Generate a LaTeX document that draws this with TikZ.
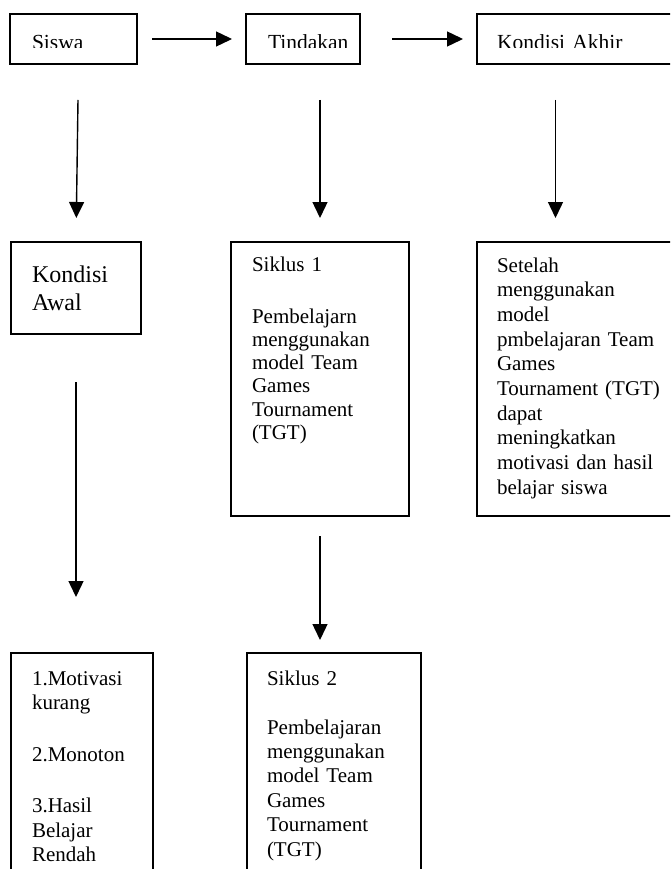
\documentclass[tikz,border=0pt]{standalone}
\usepackage{fontspec}
\setmainfont{Liberation Serif}
\usetikzlibrary{arrows.meta}
\tikzset{box/.style={draw=black, line width=1.7pt, rectangle, inner sep=0pt, outer sep=0pt, anchor=north west},
boxtext/.style={anchor=base west, inner sep=0pt, outer sep=0pt, align=left, text width=#1},
boxtext/.default={170pt},
arr/.style={-{Triangle[length=16pt,width=15pt]}, line width=1.4pt}}

\begin{document}
\begin{tikzpicture}[x=1pt, y=-1pt]
        \useasboundingbox (0,0) rectangle (670,869);
        \clip (0,0) rectangle (670,869);

        % boxes
        \node[box, minimum width=127pt, minimum height=50pt] (siswa) at (10,14) {};
        \node[box, minimum width=114pt, minimum height=50pt] (tindakan) at (246,14) {};
        \node[box, minimum width=213pt, minimum height=50pt] (akhir) at (477,14) {};
        \node[box, minimum width=130pt, minimum height=92pt] (awal) at (11,242) {};
        \node[box, minimum width=178pt, minimum height=274pt] (siklus1) at (231,242) {};
        \node[box, minimum width=213pt, minimum height=274pt] (setelah) at (477,242) {};
        \node[box, minimum width=142pt, minimum height=237pt] (masalah) at (11,653) {};
        \node[box, minimum width=174pt, minimum height=237pt] (siklus2) at (247,653) {};

        % texts
        \begin{scope}
            \clip (10,14) rectangle (670,47.5);
            \node[boxtext, font=\fontsize{21.5}{24}\selectfont] (siswa-txt) at (32,50) {Siswa};
            \node[boxtext, font=\fontsize{21.5}{24}\selectfont] (tindakan-txt) at (268,50) {Tindakan};
            \node[boxtext, font=\fontsize{21.5}{24}\selectfont] (akhir-txt) at (497,50) {Kondisi Akhir};
        \end{scope}
        \node[boxtext, font=\fontsize{24}{28}\selectfont] (awal-txt) at (32,282) {Kondisi\\Awal};
        \node[boxtext, font=\fontsize{21}{23.3}\selectfont] (siklus1-txt) at (252,271)
            {Siklus 1\\[28.7pt]Pembelajarn\\menggunakan\\model Team\\Games\\Tournament\\(TGT)};
        \node[boxtext, font=\fontsize{21}{24.7}\selectfont] (setelah-txt) at (497,272)
            {Setelah\\menggunakan\\model\\pmbelajaran Team\\Games\\Tournament (TGT)\\dapat\\meningkatkan\\motivasi dan hasil\\belajar siswa};
        \node[boxtext, font=\fontsize{21}{24.5}\selectfont] (masalah-txt) at (32,685)
            {1.Motivasi\\kurang\\[27pt]2.Monoton\\[27pt]3.Hasil\\Belajar\\Rendah};
        \node[boxtext, font=\fontsize{21}{24.4}\selectfont] (siklus2-txt) at (267,685)
            {Siklus 2\\[24.6pt]Pembelajaran\\menggunakan\\model Team\\Games\\Tournament\\(TGT)};

        % arrows
        \draw[arr, shorten <=15pt, shorten >=14pt] (siswa) -- (tindakan);
        \draw[arr, shorten <=32pt, shorten >=14pt] (tindakan) -- (akhir);
        \draw[arr, shorten <=36pt, shorten >=24pt] ([xshift=5pt]siswa.south) -- (awal.north);
        \draw[arr, shorten <=36pt, shorten >=24pt] (siklus1.north |- tindakan.south) -- (siklus1.north);
        \draw[arr, shorten <=36pt, shorten >=24pt] ([xshift=-28pt]akhir.south) -- ([xshift=-28pt]setelah.north);
        \draw[arr, shorten <=48pt, shorten >=56pt] (awal.south) -- (awal.south |- masalah.north);
        \draw[arr, shorten <=20pt, shorten >=13pt] (siklus1.south) -- (siklus1.south |- siklus2.north);

    \end{tikzpicture}
\end{document}
